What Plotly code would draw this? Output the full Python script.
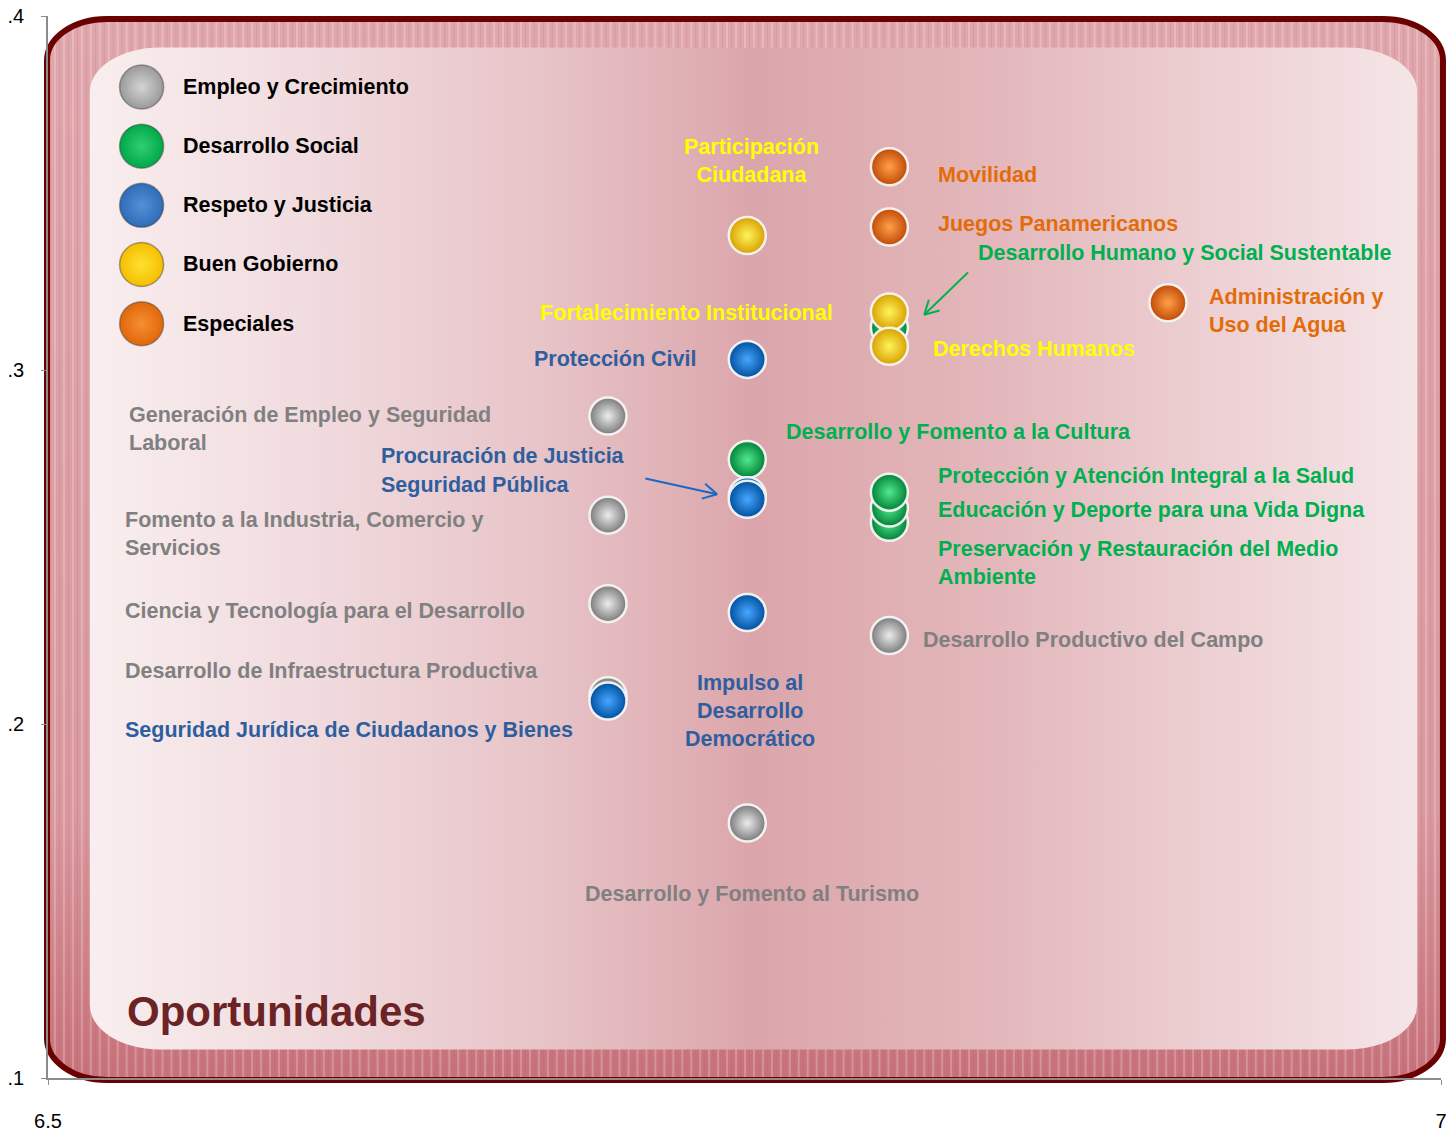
import base64
import math
import plotly.graph_objects as go

# ---- data -------------------------------------------------------------
categories = ["Empleo y Crecimiento", "Desarrollo Social", "Respeto y Justicia",
              "Buen Gobierno", "Especiales"]

gray_names = ["Generación de Empleo y Seguridad Laboral",
              "Fomento a la Industria, Comercio y Servicios",
              "Ciencia y Tecnología para el Desarrollo",
              "Desarrollo de Infraestructura Productiva",
              "Desarrollo y Fomento al Turismo",
              "Desarrollo Productivo del Campo"]
gray_x = [6.701, 6.701, 6.701, 6.701, 6.751, 6.802]
gray_y = [0.287, 0.259, 0.234, 0.208, 0.172, 0.225]

green_names = ["Preservación y Restauración del Medio Ambiente",
               "Educación y Deporte para una Vida Digna",
               "Protección y Atención Integral a la Salud",
               "Desarrollo y Fomento a la Cultura",
               "Desarrollo Humano y Social Sustentable"]
green_x = [6.802, 6.802, 6.802, 6.751, 6.802]
green_y = [0.257, 0.261, 0.2655, 0.2747, 0.312]

blue_names = ["Protección Civil", "Procuración de Justicia", "Seguridad Pública",
              "Impulso al Desarrollo Democrático",
              "Seguridad Jurídica de Ciudadanos y Bienes"]
blue_x = [6.751, 6.751, 6.751, 6.751, 6.701]
blue_y = [0.303, 0.2645, 0.2635, 0.2315, 0.2065]

yellow_names = ["Participación Ciudadana", "Fortalecimiento Institucional",
                "Derechos Humanos"]
yellow_x = [6.751, 6.802, 6.802]
yellow_y = [0.338, 0.3164, 0.3067]

orange_names = ["Movilidad", "Juegos Panamericanos", "Administración y Uso del Agua"]
orange_x = [6.802, 6.802, 6.902]
orange_y = [0.3574, 0.3404, 0.319]

x_ticks = [6.5, 7]
x_ticktext = ["6.5", "7"]
y_ticks = [0.1, 0.2, 0.3, 0.4]
y_ticktext = [".1", ".2", ".3", ".4"]

# ---- geometry ----------------------------------------------------------
W, H = 1452, 1137
ML, MR, MT, MB = 48, 5, 15, 45
PW, PH = W - ML - MR, H - MT - MB
FONT = "Liberation Sans, Arial, sans-serif"
FS = 21.5


def pp(xp, yp):
    """pixel position -> paper coordinates"""
    return (xp - ML) / PW, (H - MB - yp) / PH


series = [
    (gray_names, gray_x, gray_y, "#7a7a7a", "#ececec", "#808080"),
    (green_names, green_x, green_y, "#008236", "#52e890", "#00b050"),
    (blue_names, blue_x, blue_y, "#00509e", "#47a6ff", "#2e5e9e"),
    (yellow_names, yellow_x, yellow_y, "#d9a000", "#fff45c", "#ffff00"),
    (orange_names, orange_x, orange_y, "#c04a06", "#ffa048", "#e36c0a"),
]
legend_cols = [("#9a9a9a", "#d4d4d4"), ("#00a84a", "#30cf72"), ("#2f6cb8", "#5590d6"),
               ("#f5be00", "#ffe033"), ("#e06808", "#f88e34")]

# label placement (pixels: left edge or centre, block middle)
label_pos = {
    "Generación de Empleo y Seguridad Laboral": (127, 434, "left", "Generación de Empleo y Seguridad<br>Laboral"),
    "Fomento a la Industria, Comercio y Servicios": (123, 540, "left", "Fomento a la Industria, Comercio y<br>Servicios"),
    "Ciencia y Tecnología para el Desarrollo": (123, 618, "left", None),
    "Desarrollo de Infraestructura Productiva": (123, 679, "left", None),
    "Desarrollo y Fomento al Turismo": (755, 905, "center", None),
    "Desarrollo Productivo del Campo": (925, 648, "left", None),
    "Preservación y Restauración del Medio Ambiente": (940, 570, "left", "Preservación y Restauración del Medio<br>Ambiente"),
    "Educación y Deporte para una Vida Digna": (940, 516, "left", None),
    "Protección y Atención Integral a la Salud": (940, 482, "left", None),
    "Desarrollo y Fomento a la Cultura": (787, 437, "left", None),
    "Desarrollo Humano y Social Sustentable": (980, 255, "left", None),
    "Protección Civil": (534, 363, "left", None),
    "Procuración de Justicia": (380, 461, "left", None),
    "Seguridad Pública": (380, 491, "left", None),
    "Impulso al Desarrollo Democrático": (753, 720, "center", "Impulso al<br>Desarrollo<br>Democrático"),
    "Seguridad Jurídica de Ciudadanos y Bienes": (123, 739, "left", None),
    "Participación Ciudadana": (755, 162, "center", "Participación<br>Ciudadana"),
    "Fortalecimiento Institucional": (540, 316, "left", None),
    "Derechos Humanos": (935, 353, "left", None),
    "Movilidad": (940, 176, "left", None),
    "Juegos Panamericanos": (940, 226, "left", None),
    "Administración y Uso del Agua": (1212, 314, "left", "Administración y<br>Uso del Agua"),
}

# ---- background frame as inline svg -------------------------------------
svg = f"""<svg xmlns='http://www.w3.org/2000/svg' width='{W}' height='{H}' viewBox='0 0 {W} {H}' preserveAspectRatio='none'>
<defs>
<linearGradient id='band' x1='0' y1='0' x2='0' y2='1'>
<stop offset='0' stop-color='#dfa6ac'/><stop offset='0.75' stop-color='#d9989e'/><stop offset='1' stop-color='#c7717a'/>
</linearGradient>
<linearGradient id='inner' x1='0' y1='0' x2='1' y2='0'>
<stop offset='0' stop-color='#f9eeef'/><stop offset='0.16' stop-color='#f1dcdf'/>
<stop offset='0.34' stop-color='#e7c4c8'/><stop offset='0.5' stop-color='#dba6ab'/>
<stop offset='0.68' stop-color='#e3b7bb'/><stop offset='0.84' stop-color='#eccfd2'/>
<stop offset='1' stop-color='#f5e5e7'/>
</linearGradient>
<pattern id='stripes' width='9' height='20' patternUnits='userSpaceOnUse'>
<rect x='0' y='0' width='2' height='20' fill='#ffffff' fill-opacity='0.22'/>
<rect x='5' y='0' width='1' height='20' fill='#b05060' fill-opacity='0.15'/>
</pattern>
</defs>
<rect x='47' y='18' width='1402' height='1076' rx='60' ry='42' fill='url(#band)' stroke='#6b0000' stroke-width='6'/>
<rect x='50' y='21' width='1396' height='1070' rx='57' ry='39' fill='url(#stripes)'/>
<rect x='90' y='47' width='1333' height='1016' rx='70' ry='45' fill='url(#inner)'/>
</svg>"""
bg_uri = "data:image/svg+xml;base64," + base64.b64encode(svg.encode()).decode()

fig = go.Figure()

annotations = []
for names, xs, ys, base, hi, txt in series:
    fig.add_trace(go.Scatter(
        x=xs, y=ys, mode="markers", text=names, hoverinfo="text",
        marker=dict(size=37, color=base,
                    gradient=dict(type="radial", color=hi),
                    line=dict(width=2.5, color="rgba(245,245,245,0.95)")),
        showlegend=False,
    ))
    for n in names:
        xp, yp, anchor, disp = label_pos[n]
        px_, py_ = pp(xp, yp)
        annotations.append(dict(
            x=px_, y=py_, xref="paper", yref="paper", xanchor=anchor, yanchor="middle",
            text=disp or n, showarrow=False, align=anchor,
            font=dict(family=FONT, size=FS, color=txt, weight="bold"),
        ))

# legend drawn on its own hidden axes
LEG_X, LEG_Y0, LEG_DY = 142, 87, 60
fig.add_trace(go.Scatter(
    x=[0] * len(categories), y=list(range(len(categories))), xaxis="x2", yaxis="y2",
    mode="markers", hoverinfo="skip", showlegend=False,
    marker=dict(size=44, color=[c[0] for c in legend_cols],
                gradient=dict(type="radial", color=[c[1] for c in legend_cols]),
                line=dict(width=1.5, color="rgba(60,60,60,0.45)")),
))
for i, c in enumerate(categories):
    annotations.append(dict(
        x=0, y=i, xref="x2", yref="y2", xanchor="left", yanchor="middle", xshift=39,
        text=c, showarrow=False,
        font=dict(family=FONT, size=FS, color="#000000", weight="bold"),
    ))

ox, oy = pp(125, 1025)
annotations.append(dict(x=ox, y=oy, xref="paper", yref="paper", xanchor="left",
                        yanchor="middle", text="Oportunidades", showarrow=False,
                        font=dict(family=FONT, size=42, color="#6b2326", weight="bold")))

# arrows with open heads
shapes = []
for (x0p, y0p, x1p, y1p, col) in [(648, 484, 720, 500, "#1769c9"),
                                   (972, 275, 928, 318, "#00b050")]:
    a0, b0 = pp(x0p, y0p)
    a1, b1 = pp(x1p, y1p)
    shapes.append(dict(type="line", xref="paper", yref="paper", x0=a0, y0=b0, x1=a1, y1=b1,
                       line=dict(color=col, width=2)))
    ang = math.atan2(y1p - y0p, x1p - x0p)
    for d in (0.5, -0.5):
        hx = x1p - 16 * math.cos(ang + d)
        hy = y1p - 16 * math.sin(ang + d)
        c0, e0 = pp(hx, hy)
        shapes.append(dict(type="line", xref="paper", yref="paper", x0=c0, y0=e0, x1=a1, y1=b1,
                           line=dict(color=col, width=2)))

fig.update_layout(
    width=W, height=H,
    margin=dict(l=ML, r=MR, t=MT, b=MB, pad=0),
    paper_bgcolor="white", plot_bgcolor="rgba(0,0,0,0)",
    font=dict(family=FONT, size=20, color="#000000"),
    xaxis=dict(range=[6.5, 7], tickvals=x_ticks, ticktext=x_ticktext,
               showgrid=False, zeroline=False, showline=True, linecolor="#8c8c8c",
               linewidth=1.5, ticks="outside", ticklen=5, tickcolor="#8c8c8c",
               ticklabelstandoff=19, ticklabeloverflow="allow", tickfont=dict(size=20)),
    yaxis=dict(range=[0.1, 0.4], tickvals=y_ticks, ticktext=y_ticktext,
               showgrid=False, zeroline=False, showline=True, linecolor="#8c8c8c",
               linewidth=1.5, ticks="outside", ticklen=5, tickcolor="#8c8c8c",
               ticklabelstandoff=13, ticklabeloverflow="allow", tickfont=dict(size=20)),
    xaxis2=dict(range=[-(LEG_X - ML), ML + PW - LEG_X], overlaying="x", visible=False),
    yaxis2=dict(range=[(H - MB - LEG_Y0) / LEG_DY, -(LEG_Y0 - MT) / LEG_DY],
                overlaying="y", visible=False),
    images=[dict(source=bg_uri, xref="paper", yref="paper", x=-ML / PW, y=1 + MT / PH,
                 sizex=W / PW, sizey=H / PH, xanchor="left", yanchor="top",
                 sizing="stretch", layer="below")],
    annotations=annotations,
    shapes=shapes,
    showlegend=False,
)

# the page's default body margin would push the figure off its window
fig.write_html("out.html", config={"displayModeBar": False},
               post_script="document.body.style.margin='0';"
                           "document.documentElement.style.overflow='hidden';")
